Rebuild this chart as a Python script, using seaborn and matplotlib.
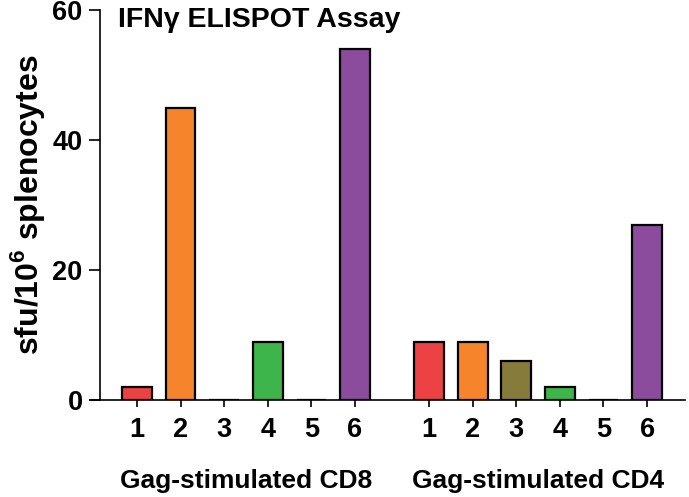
import pandas as pd
import matplotlib
matplotlib.use("Agg")
import matplotlib.pyplot as plt
import seaborn as sns

# === Datos ===
samples = ["1", "2", "3", "4", "5", "6"]
groups = ["Gag-stimulated CD8", "Gag-stimulated CD4"]
cd8_values = [2, 45, 0, 9, 0, 54]
cd4_values = [9, 9, 6, 2, 0, 27]
bar_colors = ["#EC4244", "#F5842A", "#877B3B", "#3DB54B", "#4B6FB5", "#8B4C9E"]

group_gap = 6.7  # separación entre los dos grupos (unidades de eje)

rows = []
for g, vals in enumerate([cd8_values, cd4_values]):
    for i, (s, v) in enumerate(zip(samples, vals)):
        rows.append({"group": groups[g], "sample": s, "pos": g * group_gap + i, "sfu": v})
df = pd.DataFrame(rows)

# === Estilo ===
sns.set_style("ticks")
plt.rcParams["font.family"] = ["Liberation Sans", "DejaVu Sans"]
plt.rcParams["font.weight"] = "bold"
plt.rcParams["mathtext.fontset"] = "custom"
plt.rcParams["mathtext.rm"] = "Liberation Sans:bold"
plt.rcParams["mathtext.bf"] = "Liberation Sans:bold"
for k in ["text.color", "axes.labelcolor", "xtick.color", "ytick.color", "axes.edgecolor"]:
    plt.rcParams[k] = "black"

fig = plt.figure(figsize=(6.89, 4.97), dpi=100)
ax = fig.add_axes([90 / 689, 1 - 400 / 497, 595 / 689, 390 / 497])

sns.barplot(
    data=df, x="pos", y="sfu", hue="sample", palette=bar_colors,
    native_scale=True, width=0.68, dodge=False, legend=False, saturation=1,
    edgecolor="black", linewidth=1.6, ax=ax,
)

ax.set_xlim(-1.08, 5 + group_gap + 0.87)
ax.set_ylim(0, 60)
ax.set_yticks([0, 20, 40, 60])
ax.set_xticks(df["pos"])
ax.set_xticklabels(df["sample"])

ax.spines["top"].set_visible(False)
ax.spines["right"].set_visible(False)
ax.spines["left"].set_position(("data", -0.85))
for sp in ["left", "bottom"]:
    ax.spines[sp].set_linewidth(1.2)

ax.tick_params(axis="y", length=8, width=1.2, pad=4.5, labelsize=19.5)
ax.tick_params(axis="x", length=5, width=1.2, pad=7, labelsize=19.5)
for lab in ax.get_xticklabels() + ax.get_yticklabels():
    lab.set_fontweight("bold")

ax.set_xlabel("")
ax.set_ylabel(r"sfu/10$^{6}$ splenocytes", fontsize=23, fontweight="bold", labelpad=4)

# Etiquetas de grupo
for g, name in enumerate(groups):
    ax.text(g * group_gap + 2.5, -0.226, name, transform=ax.get_xaxis_transform(),
            ha="center", va="baseline", fontsize=19, fontweight="bold")

fig.text(118 / 689, 1 - 27 / 497, "IFNγ ELISPOT Assay", ha="left", va="baseline",
         fontsize=20.5, fontweight="bold")

fig.savefig("out.png", dpi=100)
plt.close(fig)
